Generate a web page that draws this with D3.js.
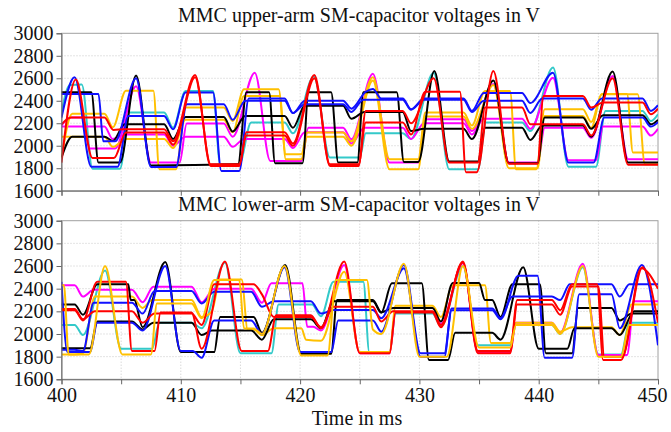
<!DOCTYPE html>
<html>
<head>
<meta charset="utf-8">
<script src="https://cdn.jsdelivr.net/npm/d3@7"></script>
<style>
  body { margin: 0; background: #fff; }
  text { font-family: "Liberation Serif", "Times New Roman", serif; }
</style>
</head>
<body>
<div id="chart"></div>
<script>
// time axis (ms) and voltage axis (V)
const timeTicks = [400, 405, 410, 415, 420, 425, 430, 435, 440, 445, 450]
const timeLabels = [400, 410, 420, 430, 440, 450]
const voltTicks = [1600, 1800, 2000, 2200, 2400, 2600, 2800, 3000]
const titles = ['MMC upper-arm SM-capacitor voltages in V', 'MMC lower-arm SM-capacitor voltages in V']
const xTitle = 'Time in ms'

// upper arm, [t, v] pairs
const upBlack1 = [[400,2475],[402.5,2475],[403.1,1850],[404.9,1850],[406.25,2625],[407.5,1825],[414.8,1835],[415.5,2475],[417.4,2475],[417.9,1845],[420.2,1845],[420.7,2475],[422.6,2475],[423.2,1850],[424.8,1850],[425.3,2475],[428.1,2475],[428.7,1855],[429.9,1855],[431.25,2665],[432.5,1860],[434.9,1860],[435.5,2160],[438.6,2160],[439.3,2050],[440.3,2180],[443.7,2180],[444.4,2080],[446.2,2660],[447.5,1850],[450,1850]]
const upBlack2 = [[400,1895],[400.9,2080],[403.6,2080],[404.3,2043],[405.3,2190],[408.6,2190],[409.35,2060],[410.4,2255],[413.6,2255],[414.35,2126],[415.4,2265],[418.7,2265],[419.4,2160],[420.4,2355],[423.6,2355],[424.3,2240],[425.4,2300],[428.6,2300],[429.3,2130],[430.4,2150],[433.7,2150],[434.4,2060],[436.2,2580],[437.5,1845],[439.9,1845],[440.5,2250],[443.7,2250],[444.4,2150],[445.4,2270],[448.7,2270],[449.4,2190],[450,2230]]
const upBlue1 = [[400,2250],[401.1,2610],[402.5,1812],[404.7,1812],[405.6,2265],[408.6,2265],[409.35,2147],[410.4,2473],[412.7,2473],[413.4,1776],[414.9,1776],[415.7,2420],[418.7,2420],[419.4,2290],[420.4,2400],[423.6,2400],[424.3,2330],[425.5,2480],[426.1,2505],[426.8,2420],[428.6,2420],[429.3,2325],[430.4,2420],[433.7,2420],[434.4,2310],[435.4,2470],[438.6,2470],[439.3,2380],[441.2,2650],[442.5,1850],[444.6,1850],[445.5,2250],[448.7,2250],[449.4,2170],[450,2210]]
const upBlue2 = [[400,2460],[403.1,2460],[403.5,2040],[404.5,2040],[406.25,2600],[407.5,1810],[409.6,1810],[410.5,2370],[413.6,2370],[414.35,2230],[415.4,2400],[418.7,2400],[419.4,2290],[420.4,2370],[423.6,2370],[424.3,2300],[425.3,2410],[428.6,2410],[429.3,2320],[430.4,2410],[433.7,2410],[434.4,2300],[435.4,2400],[438.6,2400],[439.3,2290],[440.3,2420],[443.7,2420],[444.4,2320],[445.3,2420],[448.7,2420],[449.4,2310],[450,2360]]
const upCyan = [[400,2300],[400.7,2540],[401.7,2545],[402.6,1795],[404.9,1795],[405.7,2295],[408.6,2295],[409.35,2161],[410.4,2487],[412.7,2487],[413.3,1835],[414.9,1835],[415.9,2206],[418.7,2206],[419.4,2110],[421.15,2615],[422.5,1895],[425.0,1895],[425.5,2110],[428.6,2110],[429.3,2060],[431.2,2650],[432.5,1790],[434.9,1790],[435.6,2206],[438.6,2206],[439.3,2130],[441.2,2695],[442.5,1812],[444.8,1812],[445.6,2310],[448.7,2310],[449.4,2220],[450,2280]]
const upRed1 = [[400,2190],[400.8,2250],[403.6,2250],[404.35,2140],[405.3,2147],[408.6,2147],[409.35,2040],[411.2,2630],[412.5,1820],[414.9,1820],[415.5,2120],[418.7,2120],[419.4,2020],[421.2,2630],[422.5,1820],[424.9,1820],[425.5,2310],[428.6,2310],[429.3,2200],[431.2,2600],[432.5,1850],[434.9,1850],[435.5,2339],[438.6,2339],[439.3,2190],[440.3,2191],[443.7,2191],[444.4,2090],[446.2,2600],[447.5,1830],[450,1830]]
const upRed2 = [[400,1850],[401.2,2590],[402.6,1890],[404.4,1890],[405.4,2117],[408.6,2117],[409.35,2010],[411.2,2610],[412.5,1835],[414.9,1835],[415.5,2090],[418.7,2090],[419.4,2000],[421.2,2600],[422.5,1835],[424.9,1835],[425.5,2206],[428.6,2206],[429.3,2100],[430.5,2480],[433.4,2480],[433.9,1765],[434.8,1765],[436.2,2665],[437.5,1840],[439.9,1840],[440.4,2443],[443.7,2443],[444.4,2340],[445.4,2384],[448.7,2384],[449.4,2280],[450,2330]]
const upOrange1 = [[400,1890],[400.9,2285],[403.6,2285],[404.3,2165],[405.4,2490],[407.7,2490],[408.2,1790],[409.6,1790],[410.4,2339],[413.6,2339],[414.35,2221],[415.3,2502],[418.2,2502],[418.8,1924],[420.1,1924],[420.6,2117],[423.6,2117],[424.3,2040],[426.1,2610],[427.5,1880],[429.9,1880],[430.5,2295],[433.7,2295],[434.4,2180],[435.5,2487],[437.6,2487],[438.1,1790],[439.8,1790],[440.5,2324],[443.7,2324],[444.4,2210],[445.3,2458],[448.3,2458],[448.9,1835],[450,1835]]
const upOrange2 = [[400,2080],[403.6,2080],[404.3,1990],[405.4,2060],[408.6,2060],[409.35,1980],[410.4,2230],[413.6,2230],[414.35,2120],[415.3,2443],[418.3,2443],[418.8,1880],[420.1,1880],[420.6,2080],[423.6,2080],[424.3,2000],[426.1,2580],[427.5,1790],[429.9,1790],[430.5,2260],[433.7,2260],[434.4,2150],[436.2,2540],[437.5,1800],[439.9,1800],[440.5,2265],[443.7,2265],[444.4,2160],[445.3,2460],[447.4,2460],[447.9,1939],[450,1939]]
const upMagenta1 = [[400,2180],[400.8,2250],[401.7,2250],[402.4,1975],[404.5,1975],[406.25,2530],[407.5,1850],[409.9,1850],[410.5,2197],[413.6,2197],[414.35,2080],[416.2,2650],[417.5,1865],[420.1,1865],[420.7,2161],[423.6,2161],[424.3,2058],[426.1,2640],[427.5,1850],[429.9,1850],[430.5,2236],[433.7,2236],[434.4,2130],[436.2,2550],[437.5,1850],[439.9,1850],[440.5,2160],[443.7,2160],[444.4,2070],[446.2,2620],[447.5,1880],[450,1880]]
const upMagenta2 = [[400,2170],[403.6,2170],[404.3,2060],[405.4,2100],[408.6,2100],[409.35,2000],[410.4,2080],[413.6,2080],[414.35,1990],[415.3,2060],[418.7,2060],[419.4,1980],[420.4,2120],[423.6,2120],[424.3,2020],[425.4,2160],[428.6,2160],[429.3,2060],[430.4,2200],[433.7,2200],[434.4,2100],[435.4,2240],[438.6,2240],[439.3,2150],[441.2,2605],[442.5,1870],[444.8,1870],[445.4,2170],[448.7,2170],[449.4,2090],[450,2150]]

// lower arm
const loBlack1 = [[400,2260],[401.1,2260],[401.8,2170],[403.0,2440],[405.6,2440],[405.8,2300],[406.1,2300],[406.8,2060],[408.7,2635],[410.0,1840],[412.8,1840],[413.3,2150],[416.1,2150],[416.8,2010],[418.75,2610],[420.1,1825],[422.6,1825],[423.1,2300],[426.1,2300],[426.8,2190],[427.7,2447],[430.2,2447],[430.8,1770],[432.4,1770],[433.0,2010],[436.1,2010],[436.8,1950],[438.7,2590],[440.0,1870],[442.4,1870],[443.0,2050],[446.1,2050],[446.8,1990],[448.0,2200],[450,2200]]
const loBlack2 = [[400,1875],[402.4,1875],[403.0,2110],[405.9,2110],[406.8,2040],[407.7,2100],[410.9,2100],[411.75,1990],[412.6,2030],[415.9,2030],[416.8,1950],[417.8,2130],[420.9,2130],[421.75,2050],[422.8,2290],[426.1,2290],[426.8,2190],[427.8,2230],[431.1,2230],[431.8,2110],[432.8,2450],[435.0,2450],[435.5,2300],[436.1,2300],[436.8,2150],[437.8,2440],[440.1,2440],[440.6,1830],[442.8,1830],[443.3,2230],[446.1,2230],[446.8,2120],[447.8,2180],[450,2180]]
const loBlue1 = [[400,2460],[400.5,1840],[402.4,1840],[403.0,2100],[405.9,2100],[406.8,2030],[408.7,2600],[410.0,1850],[411.0,1850],[411.75,1790],[412.8,2120],[415.9,2120],[416.8,2000],[418.7,2590],[420.0,1840],[422.6,1840],[423.2,2120],[426.1,2120],[426.8,2020],[428.7,2610],[430.1,1830],[432.1,1830],[432.7,2210],[436.1,2210],[436.8,2130],[438.3,2515],[439.9,2515],[440.5,1790],[442.8,1790],[443.4,2350],[446.1,2350],[446.8,2050],[448.65,2610],[450,1900]]
const loBlue2 = [[400,1860],[401.1,1860],[401.8,1850],[402.7,2275],[405.9,2275],[406.8,2180],[407.8,2380],[410.9,2380],[411.75,2270],[412.8,2373],[415.9,2373],[416.8,2240],[417.8,2290],[420.9,2290],[421.75,2180],[422.8,2211],[426.1,2211],[426.8,2140],[428.7,2580],[430.1,1800],[432.1,1800],[432.7,2226],[436.1,2226],[436.8,2140],[437.8,2330],[441.1,2330],[441.8,2300],[442.6,2440],[446.1,2440],[446.8,2330],[447.6,2440],[450,2440]]
const loCyan = [[400,2080],[401.1,2080],[401.8,1990],[403.65,2560],[405.0,1870],[407.6,1870],[408.2,2100],[410.9,2100],[411.75,2050],[413.7,2630],[415.0,1830],[417.6,1830],[418.2,2260],[421.0,2260],[421.75,2157],[422.8,2461],[425.3,2461],[425.8,1840],[427.5,1840],[428.0,2180],[431.1,2180],[431.8,2070],[433.65,2600],[434.9,1900],[437.6,1900],[438.1,2080],[441.1,2080],[441.8,2000],[443.7,2590],[445.0,1820],[446.9,1820],[447.6,2100],[450,2100]]
const loRed1 = [[400,2210],[401.1,2210],[401.8,2120],[403.0,2460],[405.4,2460],[405.9,1850],[407.8,1850],[408.3,2190],[410.9,2190],[411.75,1870],[413.7,2640],[415.1,1850],[417.3,1850],[418.0,2166],[420.9,2166],[421.75,2050],[423.7,2640],[425.0,1830],[427.5,1830],[428.0,2190],[431.1,2190],[431.8,2060],[433.65,2640],[434.9,1850],[437.6,1850],[438.2,2300],[441.1,2300],[441.8,2210],[442.8,2440],[444.9,2440],[445.4,1770],[446.9,1770],[448.7,2590],[450,2100]]
const loRed2 = [[400,2220],[401.1,2220],[401.8,2130],[402.8,2200],[405.9,2200],[406.8,2100],[407.8,2180],[410.9,2180],[411.75,2080],[412.8,2440],[416.1,2440],[416.8,2350],[417.8,2150],[420.9,2150],[421.75,2060],[422.8,2240],[426.1,2240],[426.8,2110],[427.8,2200],[431.1,2200],[431.8,2080],[433.65,2630],[434.9,1830],[437.6,1830],[438.2,2260],[441.1,2260],[441.8,2170],[442.8,2420],[445.0,2420],[445.5,1800],[447.0,1800],[448.6,2580],[450,2400]]
const loOrange1 = [[400,2430],[400.2,2430],[400.6,1820],[402.3,1820],[403.65,2600],[405.1,1820],[407.5,1820],[408.0,2270],[410.9,2270],[411.75,2140],[412.8,2476],[414.9,2476],[415.3,2048],[416.1,2048],[416.8,2000],[418.7,2600],[420.1,1810],[422.3,1810],[423.0,2476],[425.6,2476],[426.1,2040],[426.8,2000],[428.7,2620],[430.0,1800],[432.3,1800],[433.65,2600],[435.0,1880],[437.6,1880],[438.1,2080],[441.1,2080],[441.8,2000],[443.7,2600],[445.0,1800],[446.9,1800],[447.6,2080],[450,2080]]
const loOrange2 = [[400,1820],[401.1,1820],[401.8,1830],[402.8,2330],[405.9,2330],[406.8,2230],[407.6,2300],[410.9,2300],[411.75,2150],[412.6,2200],[413.3,2480],[415.1,2480],[415.6,2040],[416.1,2040],[416.8,1990],[417.8,2050],[420.1,2050],[420.5,1950],[421.75,1940],[423.7,2550],[425.0,1840],[427.5,1840],[428.0,2250],[431.1,2250],[431.8,2150],[432.8,2430],[435.5,2430],[436.0,1920],[437.6,1920],[438.1,2100],[441.1,2100],[441.8,2020],[442.8,2060],[446.1,2060],[446.8,1990],[447.8,2260],[450,2260]]
const loMagenta = [[400,2430],[401.1,2430],[401.8,2330],[402.7,2390],[405.9,2390],[406.8,2280],[407.7,2417],[410.9,2417],[411.75,2280],[412.8,2400],[415.9,2400],[416.8,2275],[417.6,2447],[420.2,2447],[420.6,2063],[421.1,2063],[421.75,2030],[423.7,2610],[425.0,1830],[427.5,1830],[428.0,2194],[431.1,2194],[431.8,2090],[433.65,2625],[434.9,1840],[437.6,1840],[438.1,2100],[441.1,2100],[441.8,2010],[443.7,2620],[445.0,1815],[447.4,1815],[448.0,2290],[450,2290]]

const colors = { black: '#000000', blue: '#1010ff', cyan: '#33c9c9', red: '#ff0000', magenta: '#ff00ff', orange: '#ffc000' }

const panels = [
  {
    title: titles[0], top: 33.3, bottom: 190.7, titleY: 22, labels: false,
    series: [
      [upCyan, 'cyan'], [upMagenta2, 'magenta'], [upMagenta1, 'magenta'], [upOrange2, 'orange'], [upOrange1, 'orange'],
      [upBlack2, 'black'], [upBlack1, 'black'], [upBlue2, 'blue'], [upBlue1, 'blue'], [upRed2, 'red'], [upRed1, 'red']
    ]
  },
  {
    title: titles[1], top: 220.7, bottom: 379.3, titleY: 211, labels: true,
    series: [
      [loCyan, 'cyan'], [loMagenta, 'magenta'], [loOrange2, 'orange'], [loBlack2, 'black'], [loBlack1, 'black'],
      [loBlue2, 'blue'], [loBlue1, 'blue'], [loRed2, 'red'], [loRed1, 'red'], [loOrange1, 'orange']
    ]
  }
]

const width = 671
const height = 432
const left = 61.5
const right = 658

const svg = d3.select('#chart').append('svg')
  .attr('width', width)
  .attr('height', height)

const x = d3.scaleLinear().domain([400, 450]).range([left, right])

panels.forEach((p, i) => {
  const y = d3.scaleLinear().domain([1600, 3000]).range([p.bottom, p.top])
  const g = svg.append('g')

  g.append('clipPath').attr('id', 'clip' + i)
    .append('rect')
    .attr('x', left).attr('y', p.top)
    .attr('width', right - left).attr('height', p.bottom - p.top)

  // dotted grid
  g.selectAll('.hgrid').data(voltTicks.slice(1, -1)).enter().append('line')
    .attr('x1', left).attr('x2', right)
    .attr('y1', d => y(d)).attr('y2', d => y(d))
    .attr('stroke', '#c8c8c8').attr('stroke-width', 1).attr('stroke-dasharray', '1,2')
  g.selectAll('.vgrid').data(timeTicks.slice(1, -1)).enter().append('line')
    .attr('x1', d => x(d)).attr('x2', d => x(d))
    .attr('y1', p.top).attr('y2', p.bottom)
    .attr('stroke', '#c8c8c8').attr('stroke-width', 1).attr('stroke-dasharray', '1,2')

  // plot frame
  g.append('rect')
    .attr('x', left).attr('y', p.top)
    .attr('width', right - left).attr('height', p.bottom - p.top)
    .attr('fill', 'none').attr('stroke', '#a0a0a0').attr('stroke-width', 1)

  const line = d3.line()
    .x(d => x(d[0]))
    .y(d => y(d[1]))
    .curve(d3.curveMonotoneX)

  g.append('g').attr('clip-path', 'url(#clip' + i + ')')
    .selectAll('path').data(p.series).enter().append('path')
    .attr('d', d => line(d[0]))
    .attr('fill', 'none')
    .attr('stroke', d => colors[d[1]])
    .attr('stroke-width', 2)
    .attr('stroke-linejoin', 'round')

  const yAxis = d3.axisLeft(y).tickValues(voltTicks).tickSize(5).tickPadding(3).tickFormat(d3.format('d'))
  const ya = g.append('g').attr('transform', 'translate(' + left + ',0)').call(yAxis)
  ya.attr('font-family', null)
  ya.select('.domain').attr('stroke', '#666')
  ya.selectAll('line').attr('stroke', '#666')
  ya.selectAll('text').attr('font-size', 20).attr('fill', '#111')

  const xAxis = d3.axisBottom(x).tickValues(timeTicks).tickSize(5).tickPadding(4)
    .tickFormat(d => p.labels && timeLabels.includes(d) ? d : '')
  const xa = g.append('g').attr('transform', 'translate(0,' + p.bottom + ')').call(xAxis)
  xa.attr('font-family', null)
  xa.select('.domain').attr('stroke', '#666')
  xa.selectAll('line').attr('stroke', '#666')
  xa.selectAll('text').attr('font-size', 20).attr('fill', '#111')
    .attr('dx', d => d === 450 ? -6 : 0)

  g.append('text')
    .attr('x', 359).attr('y', p.titleY)
    .attr('text-anchor', 'middle')
    .attr('font-size', 20)
    .attr('fill', '#111')
    .text(p.title)
})

svg.append('text')
  .attr('x', 357).attr('y', 425)
  .attr('text-anchor', 'middle')
  .attr('font-size', 20)
  .attr('fill', '#111')
  .text(xTitle)
</script>
</body>
</html>
